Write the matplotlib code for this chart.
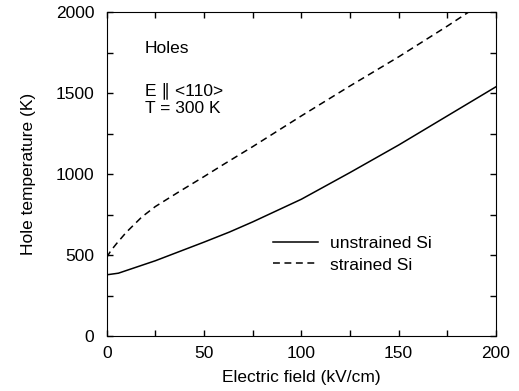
import matplotlib.pyplot as plt
from matplotlib.ticker import MultipleLocator

plt.rcParams['font.family'] = ['Liberation Sans', 'DejaVu Sans']

# electric field (kV/cm) and hole temperature (K)
field_unstrained = [0, 6, 25, 50, 63, 75, 100, 125, 150, 175, 200]
temp_unstrained = [378, 388, 465, 580, 642, 705, 845, 1010, 1180, 1360, 1540]

field_strained = [0, 2, 5, 10, 18, 25, 37, 50, 60, 75, 100, 125, 150, 175, 187]
temp_strained = [485, 525, 570, 640, 735, 800, 890, 985, 1060, 1170, 1360, 1545, 1725, 1915, 2010]

fs = 12.5

fig = plt.figure(figsize=(5.19, 3.91), dpi=100)
ax = fig.add_axes([0.2056, 0.1407, 0.7501, 0.8278])

ax.plot(field_unstrained, temp_unstrained, color='black', lw=1.1, label='unstrained Si')
ax.plot(field_strained, temp_strained, color='black', lw=1.1, linestyle=(0, (4.5, 3)),
        label='strained Si')

ax.set_xlim(0, 200)
ax.set_ylim(0, 2000)
ax.xaxis.set_major_locator(MultipleLocator(50))
ax.xaxis.set_minor_locator(MultipleLocator(25))
ax.yaxis.set_major_locator(MultipleLocator(500))
ax.yaxis.set_minor_locator(MultipleLocator(250))
ax.tick_params(which='both', direction='in', top=True, right=True, length=4, width=1,
               labelsize=fs)
ax.tick_params(axis='x', pad=7.5)
ax.tick_params(axis='y', pad=9)

ax.set_xlabel('Electric field (kV/cm)', fontsize=fs, labelpad=6)
ax.set_ylabel('Hole temperature (K)', fontsize=fs, labelpad=14)

ax.text(19.7, 1778, 'Holes', fontsize=fs, va='center')
ax.text(19.7, 1514, 'E \u2225 <110>', fontsize=fs, va='center')
ax.text(19.7, 1408, 'T = 300 K', fontsize=fs, va='center')

ax.legend(loc='upper left', bbox_to_anchor=(0.427, 0.31), frameon=False, fontsize=fs,
          handlelength=2.6, handletextpad=0.7, labelspacing=0.38, borderpad=0,
          borderaxespad=0)

plt.savefig('out.png', dpi=100)
